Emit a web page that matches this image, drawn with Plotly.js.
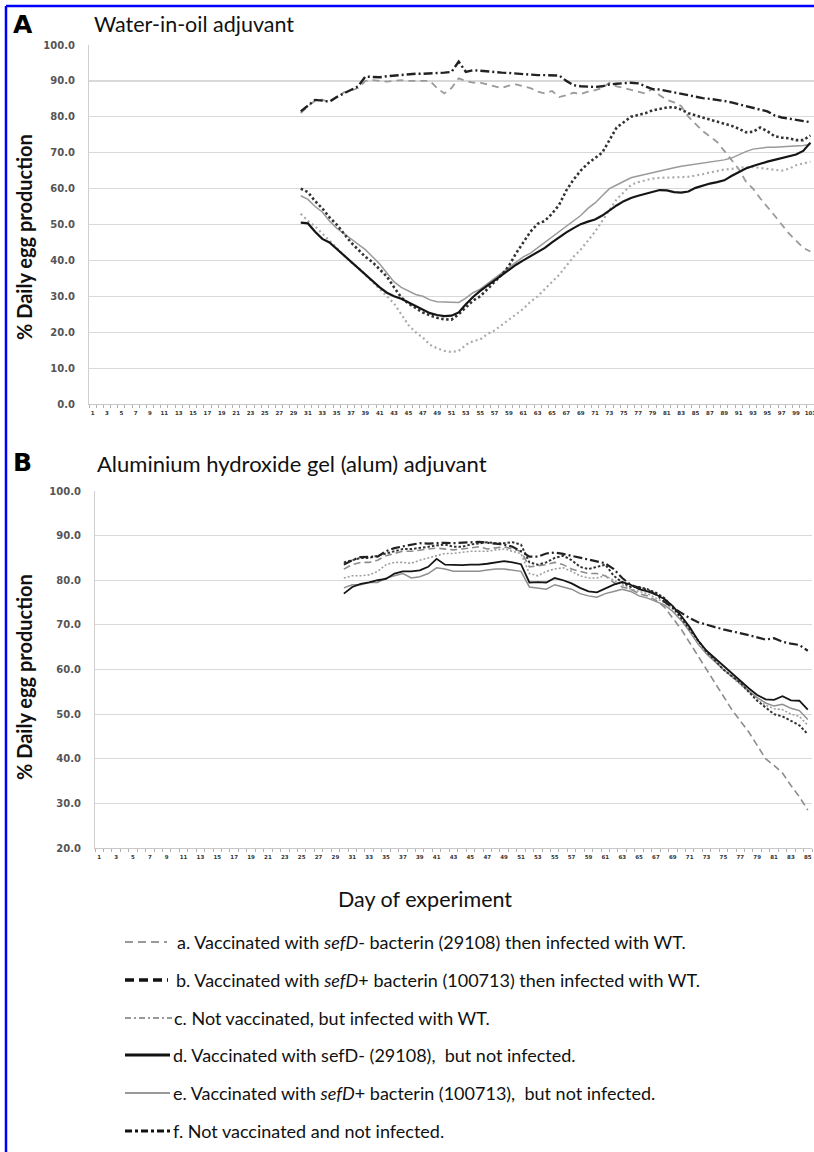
<!DOCTYPE html>
<html><head><meta charset="utf-8">
<script src="https://cdn.plot.ly/plotly-3.0.1.min.js"></script>
<style>html,body{margin:0;padding:0;background:#fff}#chart{width:814px;height:1152px}</style>
</head><body><div id="chart"></div>
<script>
// ---------- data ----------
const daysA = [30,31,32,33,34,35,36,37,38,39,40,41,42,43,44,45,46,47,48,49,50,51,52,53,54,55,56,57,58,59,60,61,62,63,64,65,66,67,68,69,70,71,72,73,74,75,76,77,78,79,80,81,82,83,84,85,86,87,88,89,90,91,92,93,94,95,96,97,98,99,100,101];
const daysB = [30,31,32,33,34,35,36,37,38,39,40,41,42,43,44,45,46,47,48,49,50,51,52,53,54,55,56,57,58,59,60,61,62,63,64,65,66,67,68,69,70,71,72,73,74,75,76,77,78,79,80,81,82,83,84,85];

const tickDaysA = [1,3,5,7,9,11,13,15,17,19,21,23,25,27,29,31,33,35,37,39,41,43,45,47,49,51,53,55,57,59,61,63,65,67,69,71,73,75,77,79,81,83,85,87,89,91,93,95,97,99,101];
const tickDaysB = [1,3,5,7,9,11,13,15,17,19,21,23,25,27,29,31,33,35,37,39,41,43,45,47,49,51,53,55,57,59,61,63,65,67,69,71,73,75,77,79,81,83,85];
const yTicksA = [0,10,20,30,40,50,60,70,80,90,100];
const yTicksB = [20,30,40,50,60,70,80,90,100];

// Panel A: water-in-oil adjuvant
const A_a = [81,83,84.5,84.8,84,85.5,86.8,87.3,88,90, 90.2,90,89.8,90,90.2,90,90,90.1,90,88, 86.5,88,90.7,90,89.5,89.5,89,88.5,88,88.7, 89,88.5,88,87,86.5,87.2,85.5,86,86.7,86.3, 87,87.4,88,89.5,88.5,88,87.5,87,86.5,87.8, 86,84.7,84,83,80,78,76,74.5,73,70.5, 68,65.5,62,60,57.3,55,52.5,50,47.5,45.5, 43.5,42.5];
const A_b = [60,59,56.5,54.5,52,50,47.5,45,43,41, 39.5,37.5,35.5,32.5,29.7,28,26.8,25.5,24.7,24, 23.6,23.5,25,27,28.8,30,32,34,36,38.5, 42,45,48,50.2,51,53,55.5,59.5,62.5,65, 67,68.5,70,73.5,77,78.5,80,80.5,81,81.8, 82.3,82.6,82.7,82,81,80.3,79.8,79.2,78.7,78.2, 77.5,76.7,75.7,75.8,77,76,74.6,74.2,74,73.5, 73.5,74.8];
const A_c = [53,51,49.5,47.5,45.5,43.5,41.5,39.5,38,36, 34,32,30,28,25,22,20,18.5,16.5,15.5, 14.8,14.5,14.8,16.5,17.5,18,19.5,20.5,22,23.5, 25,26.5,28.5,30,32,34,36,38.5,41,43, 45.5,48,51,54,57,59,61,61.8,62.3,62.8, 63,63,63,63.2,63.3,63.6,64,64.5,65,65.3, 65.5,65.8,66,66,65.8,65.5,65.2,65,65.5,66.5, 67,67.5];
const A_d = [50.5,50.3,48,46,45,43.2,41.5,39.7,38,36.2, 34.3,32.5,31,30,29.3,28.3,27.5,26.3,25.3,24.8, 24.5,24.6,25.5,27.8,29.8,31.5,33,34.5,36,37.5, 38.8,40,41.2,42.2,43.5,45,46.5,47.8,49,50.1, 50.8,51.4,52.5,54,55.3,56.5,57.4,58,58.6,59.1, 59.6,59.5,59,58.9,59.2,60.2,60.9,61.4,61.8,62.3, 63.5,64.5,65.6,66.3,67,67.5,68,68.5,68.9,69.5, 70.5,72.8];
const A_e = [58,57,55,53.5,51,49,47.5,46,44.5,43, 41,39,36.5,34,32.5,31.5,30.5,30,29,28.5, 28.5,28.5,28.3,29.5,31,32,33.5,35,36.5,38, 39.5,41,42,43.5,45,46.5,48,49.5,51,52.5, 54.5,56,58,60,61,62,63,63.5,64,64.5, 65,65.3,65.8,66.2,66.5,66.8,67.2,67.5,67.8,68, 68.5,69.5,70.3,71,71.3,71.5,71.5,71.6,71.8,72, 72,72.3];
const A_f = [81.5,83,84.7,84.5,84.2,85.5,86.5,87.5,88.5,91.2, 91,91,91.3,91.5,91.6,91.8,92,92,92,92.2, 92.3,92.5,95.4,92.5,93,92.8,92.5,92.5,92.3,92.2, 92,91.8,91.6,91.6,91.6,91.6,91.5,90,88.8,88.5, 88.3,88.3,88.5,89,89.2,89.4,89.5,89.3,88.5,87.7, 87.6,87.2,86.6,86.2,85.8,85.5,85.2,85,84.8,84.4, 84,83.5,83,82.5,82,81.5,80.4,79.8,79.5,79.2, 79,78.5];

// Panel B: aluminium hydroxide gel (alum) adjuvant
const B_a = [82.5,83.5,84,84,84.5,85.5,86,86.5,86.5,86.8, 87,87.2,87,86.8,87,87.3,87.5,87,87.2,87.5, 87,86.5,83,83.2,83.5,84,83.5,82.5,82,81.5, 81.5,81,79.5,78.5,78,77,76.5,75.5,74,71.5, 69,66,63,60,57,54,51,48.5,46,43, 40,38.5,36.8,34,31.5,28.5];
const B_b = [84,84.5,85,85,85.5,86,86.5,87,87,87.2, 87.5,87.8,88,87.5,87.5,88,88.2,88.5,88.3,88.3, 88.5,88,84,83.5,84,85,85.5,84.5,83,82.5, 83,83.5,81,79.5,78.5,78.5,78,77.2,76,74, 71.5,69,66.5,64,62,60,58.5,57,55,53, 51.5,50,49.5,48.5,47.5,45.5];
const B_c = [80.5,81,81,81.2,82,83.5,84,84,83.8,84.5, 85,85.5,86,86,86.2,86.5,86.5,86.5,86.8,87, 86.5,86,81.5,81,82,82.5,82.8,82,81,80.5, 80.5,81,80,79,78,77.5,77,76,75,73.5, 71.5,69,66.5,64,62,60,58.3,56.7,55,53.3, 52,51.2,51,50,49.5,47.5];
const B_d = [77,78.5,79.2,79.5,80,80.3,81.5,82,82,82.2, 83,84.8,83.5,83.4,83.4,83.5,83.5,83.7,84,84.3, 84,83.6,79.5,79.6,79.5,80.5,80,79.3,78.3,77.5, 77.3,78.2,79,79.6,79,78,77.5,76.8,75.8,74.2, 72,69.5,66.5,64.2,62.5,60.7,59,57.5,55.8,54.3, 53.3,53.2,54,53.1,53,51];
const B_e = [78.3,79,79,79.5,79.5,80.5,81,81.5,80.5,80.8, 81.5,82.8,82.5,82,82,82,82,82.3,82.5,82.5, 82.2,82,78.5,78.3,78,79,78.5,78,77,76.5, 76.2,77,77.5,78,77.5,76.5,76,75.3,74.5,73, 71,68.5,65.7,63.5,61.7,60,58.5,57,55.2,53.7, 52.5,51.8,52.2,51.3,50.8,48.8];
const B_f = [83.5,84.5,85.2,85.2,85.3,86.5,87.2,87.6,88,88.3, 88.2,88.3,88.4,88.3,88.4,88.5,88.6,88.4,88.2,88, 87.5,86.5,85.3,85.3,86,86.2,85.9,85.5,85,84.6, 84.2,83.8,82.5,80.5,79,78.3,77.8,76.8,75.2,73.8, 72.7,71.5,70.6,70,69.5,69,68.6,68.2,67.7,67.2, 66.7,67,66.2,65.8,65.5,64.2];

const seriesNames = [
  "a. Vaccinated with <i>sefD</i>- bacterin (29108) then infected with WT.",
  "b. Vaccinated with <i>sefD</i>+ bacterin (100713) then infected with WT.",
  "c. Not vaccinated, but infected with WT.",
  "d. Vaccinated with sefD- (29108),  but not infected.",
  "e. Vaccinated with <i>sefD</i>+ bacterin (100713),  but not infected.",
  "f. Not vaccinated and not infected."
];

// ---------- styles ----------
const W = 814, H = 1152;
const px = x => x / W, py = y => 1 - y / H;
const stylesA = [
  {color:'#9a9a9a', width:1.8, dash:'7px,5px'},
  {color:'#333333', width:2.6, dash:'2.5px,2.5px'},
  {color:'#ababab', width:2.2, dash:'2px,3px'},
  {color:'#151515', width:2.2, dash:'solid'},
  {color:'#9a9a9a', width:1.5, dash:'solid'},
  {color:'#222222', width:2.4, dash:'9px,3px,2px,3px'}
];
const stylesB = [
  {color:'#8c8c8c', width:1.6, dash:'7px,4px'},
  {color:'#333333', width:2.0, dash:'2.5px,2px'},
  {color:'#9f9f9f', width:1.6, dash:'2px,2px'},
  {color:'#151515', width:1.8, dash:'solid'},
  {color:'#8f8f8f', width:1.5, dash:'solid'},
  {color:'#222222', width:2.2, dash:'9px,3px,2px,3px'}
];
const dataA = [A_a, A_b, A_c, A_d, A_e, A_f];
const dataB = [B_a, B_b, B_c, B_d, B_e, B_f];
const order = [0, 2, 4, 1, 3, 5];

const traces = [];
order.forEach(i => {
  traces.push({x: daysA, y: dataA[i], xaxis:'x', yaxis:'y', type:'scatter', mode:'lines',
    name: seriesNames[i], showlegend:false, hoverinfo:'skip',
    line: Object.assign({shape:'linear'}, stylesA[i])});
});
order.forEach(i => {
  traces.push({x: daysB, y: dataB[i], xaxis:'x2', yaxis:'y2', type:'scatter', mode:'lines',
    name: seriesNames[i], showlegend:false, hoverinfo:'skip',
    line: Object.assign({shape:'linear'}, stylesB[i])});
});

const xTickFont = {family:'DejaVu Sans', size:5.5, color:'#333', weight:'bold'};
const yTickFont = {family:'DejaVu Sans', size:10, color:'#555', weight:'bold'};

function xAxis(domain, range, tickvals, anchor) {
  return {domain, range, anchor, tickmode:'array', tickvals, ticktext: tickvals.map(String),
    tickfont: xTickFont, ticks:'', showgrid:false, zeroline:false, showline:true,
    linecolor:'#c8c8c8', linewidth:1, ticklabelstandoff:3, ticklabeloverflow:'allow', fixedrange:true,
    minor:{tickmode:'linear', tick0:0.5, dtick:1, ticks:'outside', ticklen:3, tickcolor:'#b0b0b0', tickwidth:1, showgrid:false}};
}
function yAxis(domain, range, tickvals, anchor) {
  return {domain, range, anchor, tickmode:'array', tickvals, ticktext: tickvals.map(v => v.toFixed(1)),
    tickfont: yTickFont, ticks:'', showgrid:true, gridcolor:'#d9d9d9', gridwidth:1.2,
    zeroline:false, showline:true, linecolor:'#cfcfcf', linewidth:1, ticklabelstandoff:11, fixedrange:true};
}

const annotations = [
  {text:'<b>A</b>', x:px(11), y:py(25), xanchor:'left', yanchor:'middle', font:{family:'DejaVu Sans', size:25, color:'#000'}},
  {text:'Water-in-oil adjuvant', x:px(92), y:py(24), xanchor:'left', yanchor:'middle', font:{family:'Lato', size:21.5, color:'#111'}},
  {text:'<b>B</b>', x:px(11), y:py(462), xanchor:'left', yanchor:'middle', font:{family:'DejaVu Sans', size:25, color:'#000'}},
  {text:'Aluminium hydroxide gel (alum) adjuvant', x:px(95), y:py(463), xanchor:'left', yanchor:'middle', font:{family:'Lato', size:22, color:'#111'}},
  {text:'<b>% Daily egg production</b>', x:px(24), y:py(237), textangle:-90, xanchor:'center', yanchor:'middle', font:{family:'Lato', size:20, color:'#111'}},
  {text:'<b>% Daily egg production</b>', x:px(24), y:py(677), textangle:-90, xanchor:'center', yanchor:'middle', font:{family:'Lato', size:20, color:'#111'}},
  {text:'Day of experiment', x:px(425), y:py(899), xanchor:'center', yanchor:'middle', font:{family:'Lato', size:21.5, color:'#111'}}
];

const legendY = [942, 980, 1018, 1055, 1093, 1131];
const legendTextX = [175, 174, 172, 171, 171, 171];
const legendLineEnd = [167, 168, 172, 170, 170, 170];
const legendStyles = [
  {color:'#999', width:2, dash:'8px,5px'},
  {color:'#111', width:3.5, dash:'9px,5px'},
  {color:'#999', width:1.8, dash:'6px,3px,2px,3px'},
  {color:'#111', width:3.2, dash:'solid'},
  {color:'#999', width:2.2, dash:'solid'},
  {color:'#111', width:3, dash:'7px,3px,3px,3px'}
];

const shapes = [
  {type:'line', xref:'paper', yref:'paper', x0:px(6), x1:px(814), y0:py(6), y1:py(6), line:{color:'#0000ff', width:2.5}},
  {type:'line', xref:'paper', yref:'paper', x0:px(6), x1:px(6), y0:py(6), y1:py(1152), line:{color:'#0000ff', width:2.5}}
];
seriesNames.forEach((name, i) => {
  shapes.push({type:'line', xref:'paper', yref:'paper', x0:px(125), x1:px(legendLineEnd[i]),
    y0:py(legendY[i]), y1:py(legendY[i]), line: legendStyles[i]});
  annotations.push({text:name, x:px(legendTextX[i]), y:py(legendY[i]), xanchor:'left', yanchor:'middle',
    font:{family:'Lato', size:18, color:'#111'}});
});
annotations.forEach(a => { a.xref = 'paper'; a.yref = 'paper'; a.showarrow = false; });

const layout = {
  width: W, height: H, margin:{l:0, r:0, t:0, b:0}, paper_bgcolor:'#fff', plot_bgcolor:'#fff',
  showlegend:false,
  xaxis: xAxis([px(89), px(814)], [0.5, 101.5], tickDaysA, 'y'),
  yaxis: yAxis([py(404), py(45)], [0, 100], yTicksA, 'x'),
  xaxis2: xAxis([px(95), px(812)], [0.5, 85.5], tickDaysB, 'y2'),
  yaxis2: yAxis([py(848), py(491)], [20, 100], yTicksB, 'x2'),
  annotations, shapes
};

Plotly.newPlot('chart', traces, layout, {staticPlot:true, displayModeBar:false});
</script>
</body></html>
